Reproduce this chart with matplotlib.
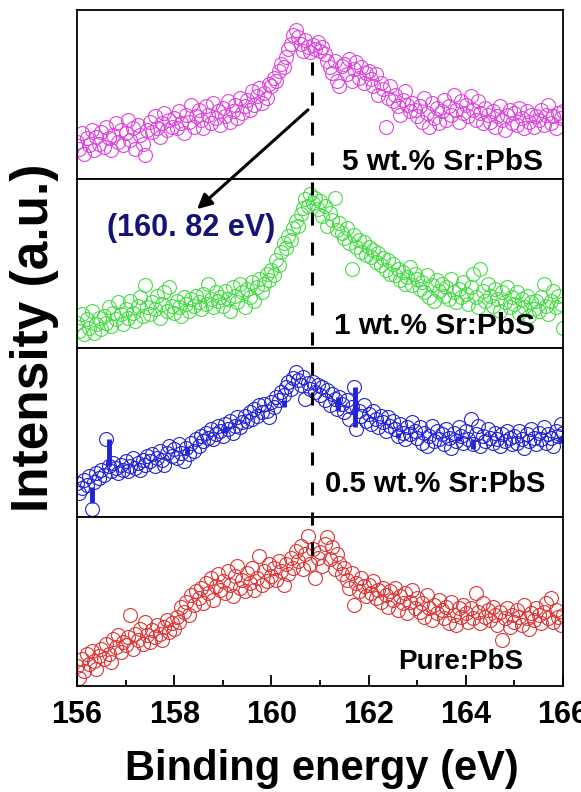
import numpy as np
import matplotlib
matplotlib.use("Agg")
import matplotlib.pyplot as plt
from matplotlib.lines import Line2D
from matplotlib.patches import FancyArrowPatch
from matplotlib.ticker import MultipleLocator
import matplotlib.transforms as mtransforms

plt.rcParams['font.family'] = ['Liberation Sans', 'DejaVu Sans']
plt.rcParams['font.weight'] = 'bold'

# ---------------- data ----------------
energy = np.round(np.arange(156.0, 166.001, 0.05), 2)   # binding energy grid (eV)

sr5 = [22, 18, 27, 15, 24, 20, 29, 17, 25, 21,
       28, 19, 31, 24, 17, 26, 33, 22, 29, 20,
       27, 35, 23, 30, 18, 32, 26, 21, 14, 29,
       34, 28, 37, 30, 25, 33, 39, 29, 35, 31,
       36, 30, 40, 33, 27, 38, 34, 44, 31, 37,
       41, 35, 30, 43, 38, 33, 45, 36, 40, 32,
       42, 37, 46, 34, 40, 44, 36, 48, 39, 43,
       47, 41, 52, 44, 49, 54, 45, 51, 48, 56,
       55, 60, 58, 64, 68, 66, 72, 77, 80, 85,
       88, 84, 80, 76, 82, 78, 75, 79, 77, 81,
       76, 78, 74, 70, 66, 63, 70, 58, 55, 67,
       68, 62, 71, 58, 65, 69, 60, 66, 57, 63,
       64, 59, 55, 62, 50, 57, 53, 31, 48, 55,
       46, 50, 43, 38, 47, 52, 44, 40, 45, 41,
       37, 43, 34, 48, 39, 31, 45, 36, 42, 33,
       40, 47, 35, 43, 38, 50, 41, 34, 46, 39,
       44, 37, 49, 41, 35, 46, 39, 33, 42, 38,
       34, 40, 31, 37, 43, 35, 29, 38, 41, 33,
       39, 32, 42, 36, 30, 40, 34, 38, 31, 37,
       35, 41, 32, 38, 44, 33, 37, 30, 39, 36,
       40]

sr1 = [15, 10, 20, 8, 17, 12, 22, 9, 14, 18,
       11, 19, 15, 24, 13, 21, 17, 27, 20, 14,
       23, 18, 28, 21, 16, 25, 30, 19, 37, 24,
       20, 27, 23, 31, 18, 26, 33, 22, 36, 25,
       21, 28, 24, 19, 30, 26, 22, 29, 25, 31,
       27, 23, 32, 26, 38, 29, 24, 33, 28, 30,
       25, 34, 29, 22, 36, 31, 27, 38, 33, 24,
       35, 30, 39, 28, 36, 41, 33, 38, 44, 40,
       46, 43, 52, 49, 57, 62, 59, 66, 64, 71,
       75, 72, 79, 83, 88, 84, 91, 86, 89, 82,
       87, 78, 84, 72, 80, 76, 89, 70, 74, 68,
       65, 71, 62, 47, 67, 60, 64, 57, 63, 55,
       60, 54, 58, 51, 56, 49, 53, 46, 52, 44,
       50, 43, 47, 40, 45, 38, 42, 48, 37, 44,
       41, 35, 39, 33, 43, 30, 37, 28, 40, 34,
       38, 31, 36, 29, 41, 33, 27, 35, 30, 39,
       32, 26, 36, 44, 30, 24, 47, 34, 28, 38,
       31, 25, 35, 29, 22, 33, 27, 36, 24, 30,
       26, 33, 21, 29, 24, 31, 19, 27, 23, 28,
       22, 30, 38, 25, 20, 28, 34, 24, 31, 26,
       12]

sr05 = [20, 14, 17, 22, 19, 24, 5, 21, 26, 23,
        28, 25, 46, 30, 27, 32, 29, 26, 31, 28,
        33, 27, 30, 35, 29, 32, 28, 34, 31, 36,
        33, 37, 30, 35, 39, 34, 31, 38, 42, 36,
        40, 35, 43, 38, 33, 41, 37, 44, 39, 46,
        42, 48, 45, 50, 47, 52, 46, 49, 54, 51,
        48, 55, 52, 57, 50, 54, 59, 53, 56, 60,
        57, 62, 58, 64, 60, 66, 62, 67, 63, 59,
        68, 65, 71, 69, 74, 72, 77, 80, 76, 82,
        86, 81, 78, 83, 70, 79, 76, 80, 74, 78,
        72, 77, 69, 75, 66, 73, 70, 64, 71, 67,
        62, 69, 58, 65, 77, 52, 63, 60, 66, 57,
        61, 55, 63, 58, 53, 60, 56, 51, 59, 54,
        57, 52, 48, 55, 50, 46, 53, 49, 56, 51,
        47, 53, 44, 50, 42, 48, 54, 45, 51, 46,
        49, 43, 52, 47, 41, 50, 45, 53, 48, 44,
        51, 46, 58, 43, 49, 54, 42, 48, 45, 52,
        47, 44, 50, 46, 42, 49, 45, 51, 47, 43,
        48, 44, 51, 46, 41, 49, 45, 52, 47, 43,
        50, 46, 53, 44, 49, 47, 42, 51, 48, 55,
        50]

# duplicated-energy readings of the 0.5 wt.% sample (drawn as vertical connectors)
sr05_dup_x = [156.31, 156.65, 158.26, 159.05, 160.25, 161.38, 161.72, 162.61, 163.85, 164.15, 165.95]
sr05_dup_lo = [8, 30, 37, 50, 65, 63, 53, 47, 45, 40, 44]
sr05_dup_hi = [18, 46, 42, 54, 69, 71, 77, 50, 48, 46, 48]

pure = [12, 5, 16, 9, 19, 13, 21, 15, 10, 18,
        22, 16, 25, 19, 14, 28, 23, 30, 20, 26,
        24, 29, 42, 22, 31, 27, 34, 25, 38, 30,
        26, 33, 29, 36, 31, 27, 35, 39, 32, 37,
        34, 41, 38, 47, 44, 50, 42, 54, 48, 56,
        52, 58, 49, 61, 55, 64, 51, 59, 66, 57,
        62, 55, 68, 60, 53, 65, 71, 58, 63, 56,
        67, 61, 70, 57, 64, 77, 60, 68, 62, 72,
        65, 70, 63, 74, 68, 60, 72, 66, 76, 70,
        80, 74, 83, 69, 78, 89, 72, 81, 64, 76,
        79, 71, 84, 88, 75, 82, 69, 78, 73, 66,
        70, 63, 58, 67, 48, 61, 56, 64, 59, 53,
        60, 55, 62, 52, 57, 50, 58, 54, 47, 56,
        51, 58, 45, 53, 49, 55, 43, 50, 57, 46,
        52, 44, 49, 41, 54, 46, 39, 48, 43, 51,
        45, 40, 47, 37, 50, 42, 36, 46, 41, 48,
        43, 38, 46, 40, 55, 44, 37, 49, 41, 45,
        39, 47, 42, 36, 44, 27, 40, 46, 35, 42,
        38, 45, 41, 36, 48, 40, 34, 43, 39, 46,
        42, 37, 44, 49, 40, 52, 38, 45, 41, 36,
        42]

series = [sr5, sr1, sr05, pure]
labels = ["5 wt.% Sr:PbS", "1 wt.% Sr:PbS", "0.5 wt.% Sr:PbS", "Pure:PbS"]
colors = ["#DD44DD", "#44DD44", "#2222D8", "#E03333"]
peak_energy = 160.84
peak_label = "(160. 82 eV)"
xticks = [156, 158, 160, 162, 164, 166]

# ---------------- figure ----------------
fig = plt.figure(figsize=(5.81, 7.92), dpi=100)
axes = fig.subplots(4, 1, sharex=True)
fig.subplots_adjust(left=77/581, right=563/581, top=1-10/792, bottom=1-686/792, hspace=0)

label_pos = [(0.959, 0.02), (0.942, 0.05), (0.963, 0.11), (0.918, 0.065)]
label_size = [21.5, 21.5, 21, 20]

for ax, y, lab, col, (lx, ly), fs in zip(axes, series, labels, colors, label_pos, label_size):
    ax.plot(energy, y, linestyle='none', marker='o', markersize=10,
            markerfacecolor='none', markeredgecolor=col, markeredgewidth=0.8)
    ax.set_xlim(156, 166)
    ax.set_ylim(0, 100)
    ax.set_yticks([])
    for s in ax.spines.values():
        s.set_linewidth(1.3)
    ax.text(lx, ly, lab, transform=ax.transAxes, ha='right', va='bottom',
            fontsize=fs, fontweight='bold', color='black')
    ax.tick_params(axis='x', which='both', bottom=False, top=False, labelbottom=False)

axes[2].vlines(sr05_dup_x, sr05_dup_lo, sr05_dup_hi, color=colors[2], linewidth=3.5)

axb = axes[-1]
axb.set_xticks(xticks)
axb.xaxis.set_minor_locator(MultipleLocator(1))
axb.tick_params(axis='x', which='both', bottom=True, labelbottom=True, direction='in',
                labelsize=22, pad=10)
axb.tick_params(axis='x', which='major', length=8, width=1.3)
axb.tick_params(axis='x', which='minor', length=4, width=1.3)
for t in axb.get_xticklabels():
    t.set_fontweight('bold')

fig.text((126 + 517) / 2 / 581, 1 - 769/792, "Binding energy (eV)", ha='center', va='center',
         fontsize=30, fontweight='bold')
fig.text(35/581, 1 - 338/792, "Intensity (a.u.)", ha='center', va='center', rotation=90,
         fontsize=37, fontweight='bold')

# dashed vertical marker across panels
trans = mtransforms.blended_transform_factory(axb.transData, fig.transFigure)
lw = 2.2
dash = Line2D([peak_energy, peak_energy], [1 - 62/792, 1 - 562/792], transform=trans,
              color='black', linewidth=lw, dashes=(9.4/lw, 12.2/lw), zorder=10)
fig.add_artist(dash)

# arrow and peak annotation
arrow = FancyArrowPatch((310/581, 1 - 108/792), (195/581, 1 - 211/792),
                        transform=fig.transFigure, arrowstyle='-|>', mutation_scale=22,
                        color='black', linewidth=2.2, zorder=10)
fig.add_artist(arrow)
fig.text(191/581, 1 - 228/792, peak_label, ha='center', va='center',
         fontsize=22, fontweight='bold', color='#141478')

fig.savefig("out.png", dpi=100)
